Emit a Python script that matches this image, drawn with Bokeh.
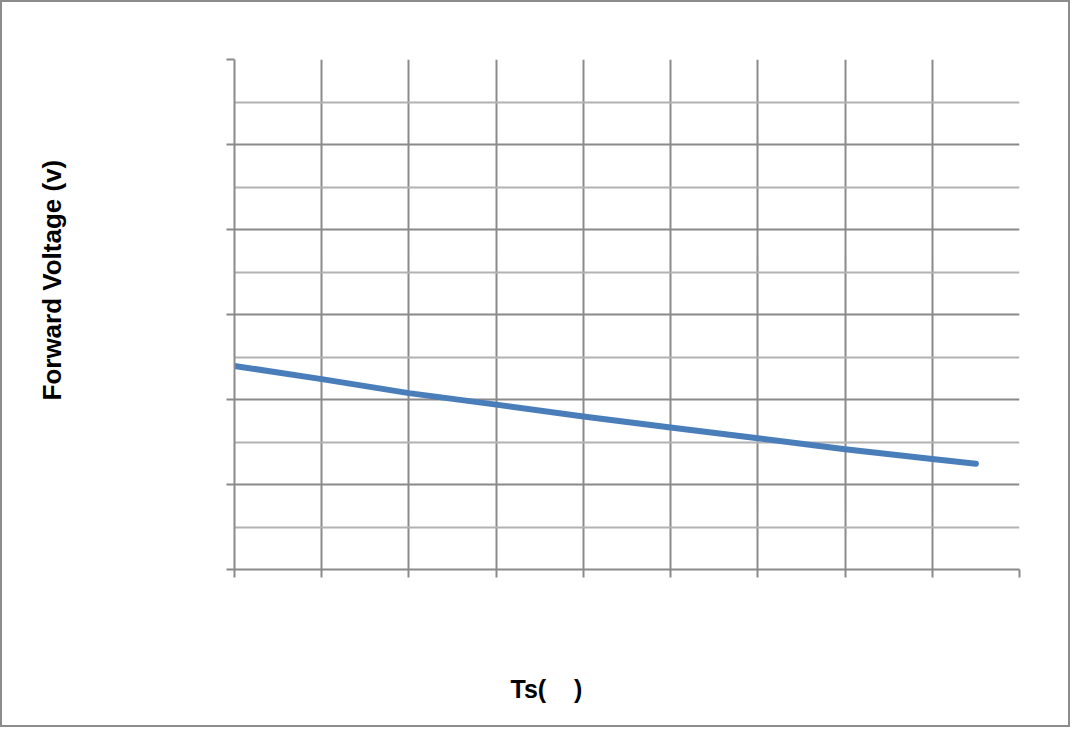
from bokeh.plotting import figure
from bokeh.models import Range1d, FixedTicker, Title, CustomJSTickFormatter, LinearAxis
from bokeh.embed import file_html
from bokeh.resources import INLINE

# Data
ts = [25, 35, 45, 55, 65, 75, 85, 95, 105, 110]
vf = [3.079, 3.048, 3.015, 2.988, 2.960, 2.934, 2.909, 2.883, 2.860, 2.849]
x_ticks = [25, 35, 45, 55, 65, 75, 85, 95, 105, 115]
y_ticks = [2.6, 2.8, 3.0, 3.2, 3.4, 3.6, 3.8]
y_minor = [2.7, 2.9, 3.1, 3.3, 3.5, 3.7]
x_label = "Ts(\u00a0\u00a0\u00a0\u00a0)"
y_label = "Forward Voltage (v)"

W, H = 1070, 727
p = figure(width=W, height=H, output_backend="svg", toolbar_location=None,
           x_range=Range1d(25, 115), y_range=Range1d(2.6, 3.8),
           min_border_left=232, min_border_right=53,
           min_border_top=57, min_border_bottom=160)
p.styles = {"border": "2px solid #8c8c8c"}
p.outline_line_color = None
p.background_fill_color = "white"
p.border_fill_color = "white"

p.xaxis.ticker = FixedTicker(ticks=x_ticks)
p.yaxis.ticker = FixedTicker(ticks=y_ticks, minor_ticks=y_minor)
blank = CustomJSTickFormatter(code="return ''")
for ax in (p.xaxis[0], p.yaxis[0]):
    ax.formatter = blank
    ax.axis_line_color = "#8a8a8a"
    ax.axis_line_width = 2
    ax.major_tick_line_color = "#8a8a8a"
    ax.major_tick_line_width = 2
    ax.major_tick_out = 8
    ax.major_tick_in = 0
    ax.minor_tick_line_color = None
    ax.major_label_standoff = 0

# invisible spacer axes that push the axis titles outward
def spacer(ticks, size):
    return LinearAxis(ticker=FixedTicker(ticks=ticks), formatter=blank,
                      axis_line_color=None, major_tick_line_color=None,
                      minor_tick_line_color=None, major_tick_out=size,
                      major_tick_in=0, major_label_standoff=0)

p.add_layout(spacer(y_ticks, 153), "left")
p.add_layout(spacer(x_ticks, 92), "below")

p.xgrid.grid_line_color = "#8a8a8a"
p.xgrid.grid_line_width = 2
p.ygrid.grid_line_color = "#8a8a8a"
p.ygrid.grid_line_width = 2
p.ygrid.minor_grid_line_color = "#b2b2b2"
p.ygrid.minor_grid_line_width = 2

p.line(ts, vf, line_width=6, line_color="#4a7ebb", line_cap="round",
       line_join="round")

p.add_layout(Title(text=y_label, align="left", offset=169, vertical_align="top",
                   standoff=10, text_font="Liberation Sans",
                   text_font_style="bold", text_font_size="26px",
                   text_color="black"), "left")
p.add_layout(Title(text=x_label, align="left", offset=276, vertical_align="top",
                   standoff=10, text_font="Liberation Sans",
                   text_font_style="bold", text_font_size="25px",
                   text_color="black"), "below")

open("out.html", "w").write(file_html(p, INLINE))
